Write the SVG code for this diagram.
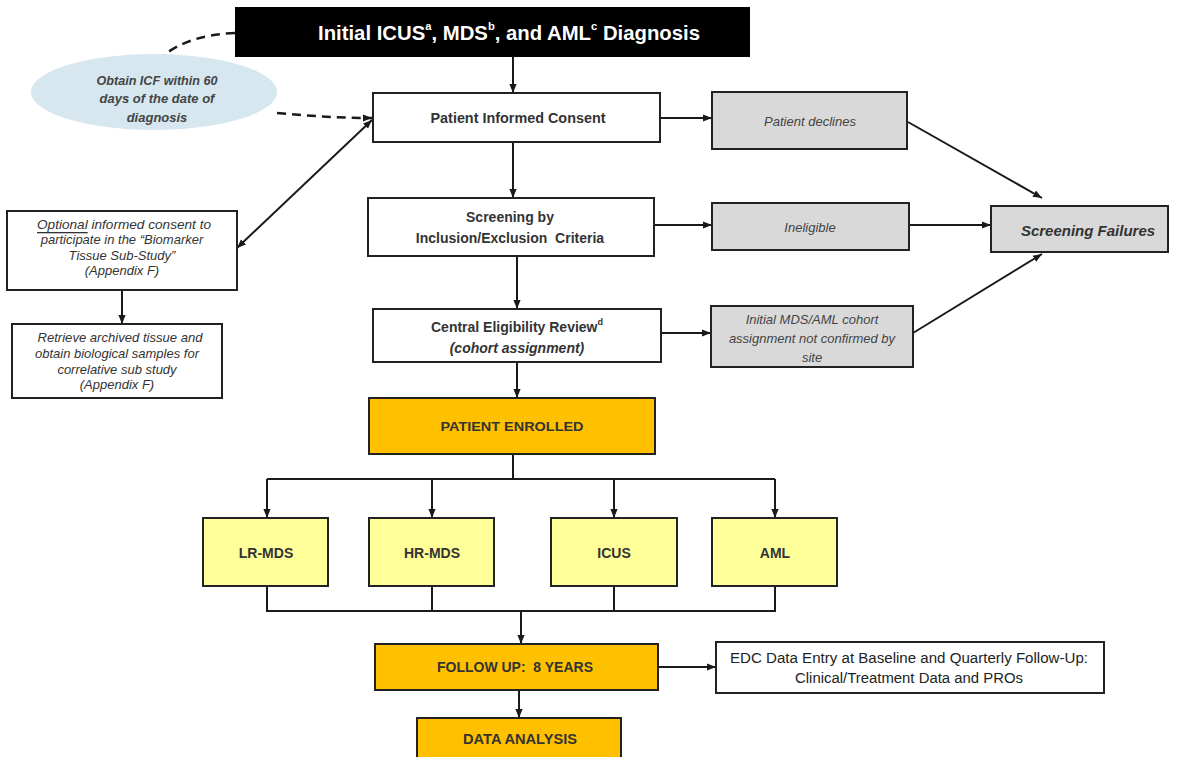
<svg xmlns="http://www.w3.org/2000/svg" width="1178" height="757" viewBox="0 0 1178 757">
<style>
  text { font-family: "Liberation Sans", Arial, sans-serif; fill: #333; text-anchor: middle; dominant-baseline: central; }
  .box { stroke: #222; stroke-width: 2; }
  .w { fill: #fff; }
  .g { fill: #d9d9d9; }
  .o { fill: #ffc000; }
  .y { fill: #ffff99; }
  .b { font-weight: bold; }
  .i { font-style: italic; }
  .s13 { font-size: 13px; }
  .s14 { font-size: 14px; }
  .s12 { font-size: 13px; }
  .ln { stroke: #1a1a1a; stroke-width: 2; fill: none; }
  .dash { stroke: #1a1a1a; stroke-width: 2.5; fill: none; stroke-dasharray: 9 6; }
</style>
<defs>
  <marker id="ah" viewBox="0 0 10 10" refX="10" refY="5" markerWidth="9" markerHeight="9" markerUnits="userSpaceOnUse" orient="auto-start-reverse">
    <path d="M0,1 L10,5 L0,9 z" fill="#1a1a1a"/>
  </marker>
</defs>
<rect width="1178" height="757" fill="#fff"/>

<g id="connectors">
  <line class="ln" x1="513" y1="57" x2="513" y2="93" marker-end="url(#ah)"/>
  <line class="ln" x1="660" y1="118" x2="712" y2="118" marker-end="url(#ah)"/>
  <line class="ln" x1="513" y1="142" x2="513" y2="198" marker-end="url(#ah)"/>
  <line class="ln" x1="654" y1="225" x2="712" y2="225" marker-end="url(#ah)"/>
  <line class="ln" x1="909" y1="225" x2="991" y2="225" marker-end="url(#ah)"/>
  <line class="ln" x1="517" y1="256" x2="517" y2="309" marker-end="url(#ah)"/>
  <line class="ln" x1="661" y1="333" x2="711" y2="333" marker-end="url(#ah)"/>
  <line class="ln" x1="908" y1="122" x2="1042" y2="198" marker-end="url(#ah)"/>
  <line class="ln" x1="913" y1="333" x2="1042" y2="254" marker-end="url(#ah)"/>
  <line class="ln" x1="517" y1="362" x2="517" y2="398" marker-end="url(#ah)"/>
  <polyline class="ln" points="513,454 513,479"/>
  <line class="ln" x1="267" y1="479" x2="775" y2="479"/>
  <line class="ln" x1="267" y1="479" x2="267" y2="518" marker-end="url(#ah)"/>
  <line class="ln" x1="432" y1="479" x2="432" y2="518" marker-end="url(#ah)"/>
  <line class="ln" x1="614" y1="479" x2="614" y2="518" marker-end="url(#ah)"/>
  <line class="ln" x1="775" y1="479" x2="775" y2="518" marker-end="url(#ah)"/>
  <polyline class="ln" points="267,586 267,611 775,611 775,586"/>
  <line class="ln" x1="432" y1="586" x2="432" y2="611"/>
  <line class="ln" x1="614" y1="586" x2="614" y2="611"/>
  <line class="ln" x1="521" y1="611" x2="521" y2="644" marker-end="url(#ah)"/>
  <line class="ln" x1="519" y1="690" x2="519" y2="718" marker-end="url(#ah)"/>
  <line class="ln" x1="658" y1="667" x2="716" y2="667" marker-end="url(#ah)"/>
  <path class="dash" d="M235,33 C205,34 180,42 163,56"/>
  <path class="dash" d="M277,113 C310,116 340,118 372,118" marker-end="url(#ah)"/>
  <line class="ln" x1="372" y1="120" x2="237" y2="248" marker-start="url(#ah)" marker-end="url(#ah)"/>
  <line class="ln" x1="122" y1="290" x2="122" y2="324" marker-end="url(#ah)"/>
</g>

<g id="n-diagnosis">
  <rect x="235" y="7" width="515" height="50" fill="#000"/>
  <text x="509" y="33" style="fill:#fff;font-size:20px;font-weight:bold" textLength="382" lengthAdjust="spacingAndGlyphs">Initial ICUS<tspan font-size="11" dy="-7">a</tspan><tspan dy="7">, MDS</tspan><tspan font-size="11" dy="-7">b</tspan><tspan dy="7">, and AML</tspan><tspan font-size="11" dy="-7">c</tspan><tspan dy="7"> Diagnosis</tspan></text>
</g>

<g id="n-icf">
  <ellipse cx="154" cy="92" rx="123" ry="38" fill="#d6e7f0"/>
  <text class="i b s13" x="157" y="80" style="fill:#444" textLength="121" lengthAdjust="spacingAndGlyphs">Obtain ICF within 60</text>
  <text class="i b s13" x="157" y="98" style="fill:#444">days of the date of</text>
  <text class="i b s13" x="157" y="117" style="fill:#444">diagnosis</text>
</g>

<g id="n-consent">
  <rect class="box w" x="373" y="93" width="287" height="49"/>
  <text class="b s14" x="518" y="118" textLength="175" lengthAdjust="spacingAndGlyphs">Patient Informed Consent</text>
</g>

<g id="n-declines">
  <rect class="box g" x="712" y="92" width="195" height="57"/>
  <text class="i s13" x="810" y="121" style="fill:#444">Patient declines</text>
</g>

<g id="n-screening">
  <rect class="box w" x="368" y="198" width="286" height="58"/>
  <text class="b s14" x="510" y="217">Screening by</text>
  <text class="b s14" x="510" y="238" xml:space="preserve">Inclusion/Exclusion  Criteria</text>
</g>

<g id="n-ineligible">
  <rect class="box g" x="712" y="203" width="197" height="47"/>
  <text class="i s13" x="810" y="227" style="fill:#444">Ineligible</text>
</g>

<g id="n-failures">
  <rect class="box g" x="991" y="206" width="177" height="46"/>
  <text class="i b" x="1088" y="230" style="font-size:15px">Screening Failures</text>
</g>

<g id="n-central">
  <rect class="box w" x="373" y="309" width="288" height="53"/>
  <text class="b s14" x="517" y="327" textLength="172" lengthAdjust="spacingAndGlyphs">Central Eligibility Review<tspan font-size="9" dy="-5">d</tspan></text>
  <text class="b i s14" x="517" y="348">(cohort assignment)</text>
</g>

<g id="n-notconfirmed">
  <rect class="box g" x="711" y="306" width="202" height="61"/>
  <text class="i s13" x="812" y="319" style="fill:#444">Initial MDS/AML cohort</text>
  <text class="i s13" x="812" y="338" style="fill:#444">assignment  not confirmed by</text>
  <text class="i s13" x="812" y="357" style="fill:#444">site</text>
</g>

<g id="n-optional">
  <rect class="box w" x="7" y="211" width="230" height="79"/>
  <text class="i s12" x="124" y="224" textLength="174" lengthAdjust="spacingAndGlyphs"><tspan text-decoration="underline">Optional</tspan> informed consent  to</text>
  <text class="i s12" x="122" y="239">participate in the “Biomarker</text>
  <text class="i s12" x="122" y="255">Tissue Sub-Study”</text>
  <text class="i s12" x="122" y="270">(Appendix F)</text>
</g>

<g id="n-retrieve">
  <rect class="box w" x="12" y="324" width="210" height="74"/>
  <text class="i s12" x="120" y="337" textLength="165" lengthAdjust="spacingAndGlyphs">Retrieve  archived tissue  and</text>
  <text class="i s12" x="117" y="353">obtain biological samples for</text>
  <text class="i s12" x="117" y="369">correlative sub study</text>
  <text class="i s12" x="117" y="384">(Appendix F)</text>
</g>

<g id="n-enrolled">
  <rect class="box o" x="369" y="398" width="286" height="56"/>
  <text class="b s13" x="512" y="426" textLength="143" lengthAdjust="spacingAndGlyphs">PATIENT ENROLLED</text>
</g>

<g id="n-lrmds">
  <rect class="box y" x="203" y="518" width="125" height="68"/>
  <text class="b s14" x="266" y="553">LR-MDS</text>
</g>
<g id="n-hrmds">
  <rect class="box y" x="369" y="518" width="125" height="68"/>
  <text class="b s14" x="432" y="553">HR-MDS</text>
</g>
<g id="n-icus">
  <rect class="box y" x="551" y="518" width="126" height="68"/>
  <text class="b s14" x="614" y="553">ICUS</text>
</g>
<g id="n-aml">
  <rect class="box y" x="712" y="518" width="125" height="68"/>
  <text class="b s14" x="775" y="553">AML</text>
</g>

<g id="n-followup">
  <rect class="box o" x="375" y="644" width="283" height="46"/>
  <text class="b s14" x="515" y="667" textLength="156" lengthAdjust="spacingAndGlyphs" xml:space="preserve">FOLLOW UP:  8 YEARS</text>
</g>

<g id="n-edc">
  <rect class="box w" x="716" y="642" width="388" height="51"/>
  <text class="b s14" x="909" y="658" style="font-weight:normal;fill:#222" textLength="358" lengthAdjust="spacingAndGlyphs">EDC Data Entry at Baseline and Quarterly Follow-Up:</text>
  <text class="b s14" x="909" y="678" style="font-weight:normal;fill:#222" textLength="228" lengthAdjust="spacingAndGlyphs">Clinical/Treatment Data and PROs</text>
</g>

<g id="n-analysis">
  <rect class="box o" x="417" y="718" width="204" height="45"/>
  <text class="b s14" x="520" y="739" textLength="114" lengthAdjust="spacingAndGlyphs">DATA ANALYSIS</text>
</g>
</svg>
